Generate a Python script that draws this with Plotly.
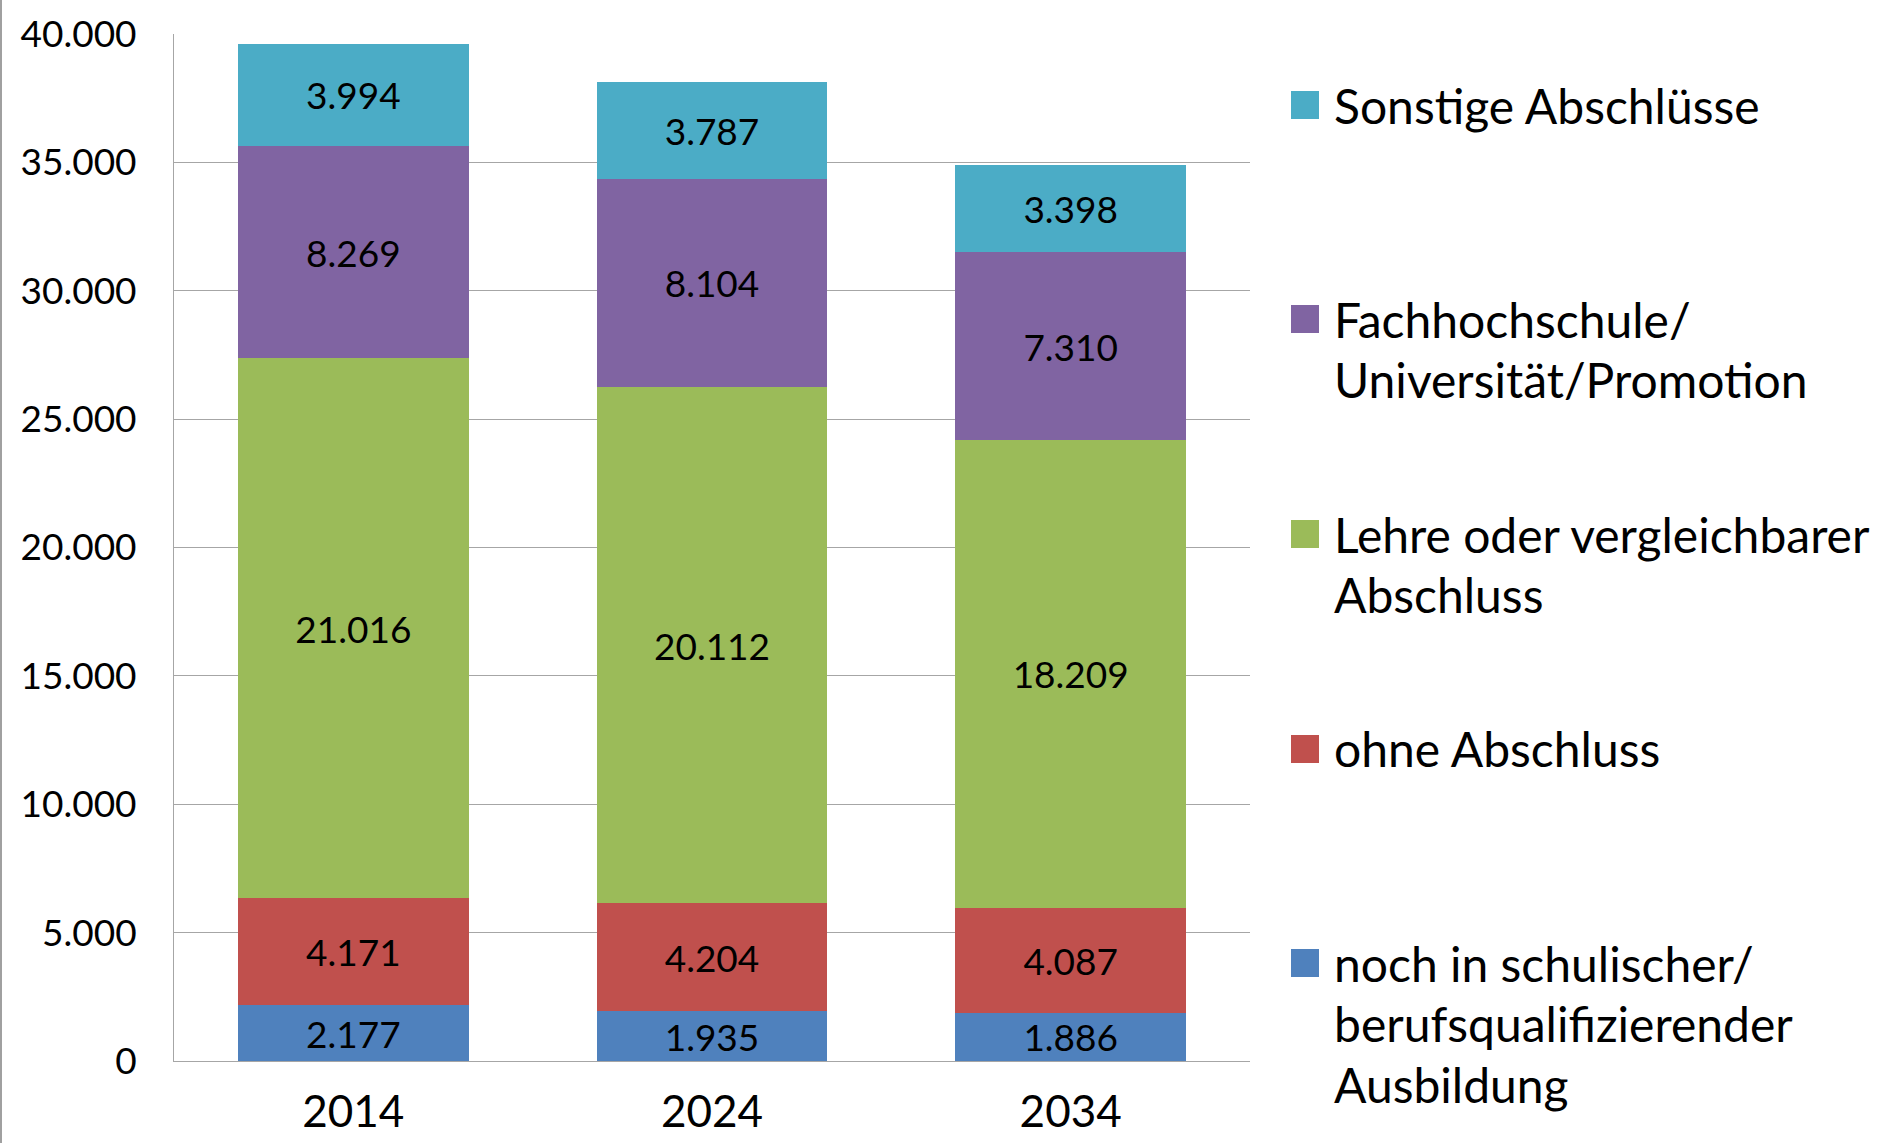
import plotly.graph_objects as go

# ---- data ----
years = ["2014", "2024", "2034"]
series_names = [
    "noch in schulischer/\nberufsqualifizierender\nAusbildung",
    "ohne Abschluss",
    "Lehre oder vergleichbarer\nAbschluss",
    "Fachhochschule/\nUniversität/Promotion",
    "Sonstige Abschlüsse",
]
noch_in_ausbildung = [2177, 1935, 1886]
ohne_abschluss = [4171, 4204, 4087]
lehre = [21016, 20112, 18209]
fachhochschule = [8269, 8104, 7310]
sonstige = [3994, 3787, 3398]
series_values = [noch_in_ausbildung, ohne_abschluss, lehre, fachhochschule, sonstige]
colors = ["#4F81BD", "#C0504D", "#9BBB59", "#8064A2", "#4BACC6"]

y_ticks = [0, 5000, 10000, 15000, 20000, 25000, 30000, 35000, 40000]

# ---- layout geometry (pixels) ----
W, H = 1890, 1143
ML, MR, MT, MB = 174, 640, 34, 82
PW = W - ML - MR
PH = H - MT - MB
FONT = "Lato"

def px_x(p):
    return (p - ML) / PW

def px_y(p):
    return (H - MB - p) / PH

fig = go.Figure()
for name, vals, col in zip(series_names, series_values, colors):
    fig.add_trace(go.Bar(
        x=years, y=vals, name=name.replace("\n", " "),
        marker=dict(color=col, line=dict(width=0)),
        texttemplate="%{y:,}", textposition="inside",
        insidetextanchor="middle", constraintext="none",
        textfont=dict(family=FONT, size=37, color="black"),
        showlegend=False,
    ))

# custom legend (Excel-style, right side)
legend_first_line = [963, 749, 534, 319, 105]
line_step = 60.5
shapes = []
annotations = []
for name, col, y0 in zip(series_names, colors, legend_first_line):
    shapes.append(dict(type="rect", xref="paper", yref="paper",
                       x0=px_x(1291), x1=px_x(1319),
                       y0=px_y(y0 + 14), y1=px_y(y0 - 14),
                       fillcolor=col, line=dict(width=0)))
    for i, line in enumerate(name.split("\n")):
        annotations.append(dict(
            text=line, xref="paper", yref="paper",
            x=px_x(1332), y=px_y(y0 + i * line_step),
            xanchor="left", yanchor="middle", showarrow=False,
            font=dict(family=FONT, size=48, color="black"),
        ))

# thin gray frame line at the left edge of the image
shapes.append(dict(type="line", xref="paper", yref="paper",
                   x0=px_x(1), x1=px_x(1), y0=-1, y1=2,
                   line=dict(color="#a0a0a0", width=2)))

fig.update_layout(
    width=W, height=H,
    margin=dict(l=ML, r=MR, t=MT, b=MB, pad=0, autoexpand=False),
    barmode="stack", bargap=0.356,
    separators=",.",
    paper_bgcolor="white", plot_bgcolor="white",
    font=dict(family=FONT, color="black"),
    shapes=shapes, annotations=annotations,
    showlegend=False,
)
fig.update_yaxes(
    range=[0, 40000], tickvals=y_ticks, tickformat=",",
    showgrid=True, gridcolor="#a6a6a6", gridwidth=1,
    zeroline=True, zerolinecolor="#a6a6a6", zerolinewidth=1,
    showline=True, linecolor="#a6a6a6", linewidth=1,
    ticks="", ticklabelstandoff=29, automargin=False,
    tickfont=dict(family=FONT, size=37, color="black"),
)
fig.update_xaxes(
    showgrid=False, showline=True, linecolor="#a6a6a6", linewidth=1,
    ticks="", ticklabelstandoff=12, automargin=False,
    tickfont=dict(family=FONT, size=44, color="black"),
)

fig.write_html("out.html", config={"displayModeBar": False},
               post_script="document.body.style.margin='0';")
